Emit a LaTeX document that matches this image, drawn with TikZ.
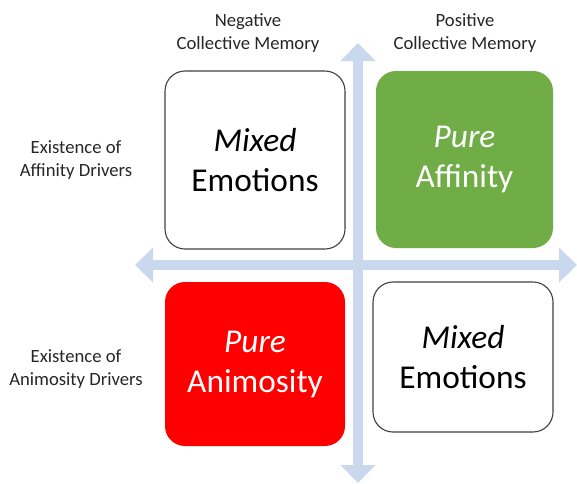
\documentclass[tikz,border=0pt]{standalone}
\usepackage{fontspec}
\setmainfont{Carlito}
\usetikzlibrary{arrows.meta,positioning}
\definecolor{axisblue}{HTML}{CAD8EE}
\definecolor{affgreen}{HTML}{70AD47}
\def \px {0.75pt}

\begin{document}
\begin{tikzpicture}[x=\px,y=-\px,
    quad/.style={rounded corners=20*\px,align=center,inner sep=0pt,
      font=\fontsize{25}{30}\selectfont},
    plain/.style={quad,draw=black!75,line width=1.1*\px,fill=white},
    axis/.style={draw=axisblue,line width=10*\px,
      {Triangle[length=18*\px,width=34*\px]}-{Triangle[length=18*\px,width=34*\px]}},
    lbl/.style={align=center,font=\fontsize{14}{17}\selectfont,text=black!85}]
    \useasboundingbox (0,0) rectangle (577,483);
    % axes
    \coordinate (W) at (135,265);
    \coordinate (E) at (577,265);
    \coordinate (N) at (358,43);
    \coordinate (S) at (358,483);
    \draw[axis] (W) -- (E);
    \draw[axis] (N) -- (S);
    % quadrants
    \node[plain,minimum width=180*\px,minimum height=178*\px] (NW) at (255,160)
      {\textit{Mixed}\\Emotions};
    \node[quad,fill=affgreen,text=white,minimum width=177*\px,minimum height=177*\px] (NE) at (464.5,159.5)
      {\textit{Pure}\\Affinity};
    \node[quad,fill=red,text=white,minimum width=180*\px,minimum height=164*\px] (SW) at (255,364)
      {\textit{Pure}\\Animosity};
    \node[plain,minimum width=180*\px,minimum height=150*\px] (SE) at (463,357)
      {\textit{Mixed}\\Emotions};
    % headings
    \node[lbl] (neg) at (248,33) {Negative\\Collective Memory};
    \node[lbl] (pos) at (465,33) {Positive\\Collective Memory};
    \node[lbl] (aff) at (76,160) {Existence of\\Affinity Drivers};
    \node[lbl] (ani) at (76,369) {Existence of\\Animosity Drivers};
\end{tikzpicture}
\end{document}
